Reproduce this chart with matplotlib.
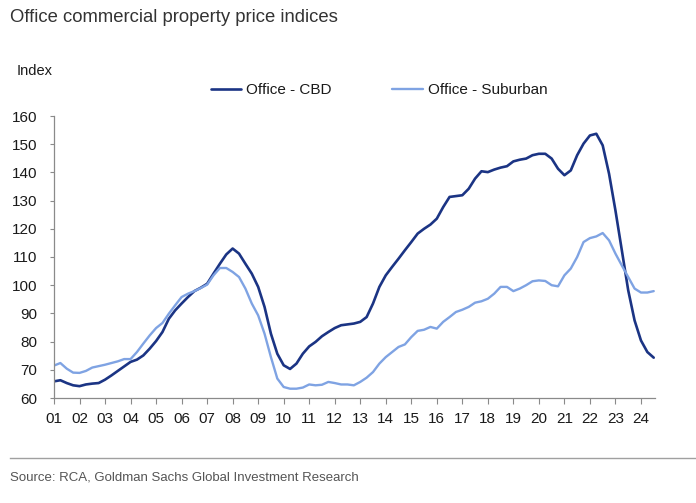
import matplotlib
matplotlib.use("Agg")
import matplotlib.pyplot as plt
import numpy as np

years_cbd = [2001.0, 2001.25, 2001.5, 2001.75, 2002.0, 2002.25, 2002.5, 2002.75,
             2003.0, 2003.25, 2003.5, 2003.75, 2004.0, 2004.25, 2004.5, 2004.75,
             2005.0, 2005.25, 2005.5, 2005.75, 2006.0, 2006.25, 2006.5, 2006.75,
             2007.0, 2007.25, 2007.5, 2007.75, 2008.0, 2008.25, 2008.5, 2008.75,
             2009.0, 2009.25, 2009.5, 2009.75, 2010.0, 2010.25, 2010.5, 2010.75,
             2011.0, 2011.25, 2011.5, 2011.75, 2012.0, 2012.25, 2012.5, 2012.75,
             2013.0, 2013.25, 2013.5, 2013.75, 2014.0, 2014.25, 2014.5, 2014.75,
             2015.0, 2015.25, 2015.5, 2015.75, 2016.0, 2016.25, 2016.5, 2016.75,
             2017.0, 2017.25, 2017.5, 2017.75, 2018.0, 2018.25, 2018.5, 2018.75,
             2019.0, 2019.25, 2019.5, 2019.75, 2020.0, 2020.25, 2020.5, 2020.75,
             2021.0, 2021.25, 2021.5, 2021.75, 2022.0, 2022.25, 2022.5, 2022.75,
             2023.0, 2023.25, 2023.5, 2023.75, 2024.0, 2024.25, 2024.5]
cbd = [65.9, 66.3, 65.3, 64.5, 64.2, 64.8, 65.1, 65.3,
       66.5, 68.0, 69.6, 71.2, 72.8, 73.6, 75.1, 77.5,
       80.2, 83.4, 88.1, 91.1, 93.5, 95.8, 97.9, 99.1,
       100.5, 104.1, 107.6, 110.9, 113.0, 111.2, 107.6, 104.1,
       99.4, 92.3, 82.8, 75.7, 71.6, 70.3, 72.2, 75.7,
       78.3, 79.9, 81.9, 83.4, 84.8, 85.8, 86.1, 86.4,
       87.0, 88.7, 93.5, 99.4, 103.5, 106.5, 109.4, 112.4,
       115.3, 118.3, 120.0, 121.5, 123.6, 127.7, 131.3, 131.6,
       131.9, 134.2, 137.8, 140.4, 140.1, 141.0, 141.7, 142.2,
       143.9, 144.5, 144.9, 146.1, 146.6, 146.6, 144.9, 141.3,
       139.0, 140.7, 146.1, 150.2, 153.1, 153.7, 149.6, 139.5,
       126.5, 112.4, 98.2, 87.5, 80.4, 76.3, 74.3]

suburban = [71.5, 72.4, 70.4, 69.0, 68.9, 69.6, 70.8, 71.3,
            71.8, 72.4, 73.0, 73.8, 73.8, 76.3, 79.3, 82.2,
            84.8, 86.6, 89.9, 92.9, 95.8, 97.0, 97.9, 99.0,
            100.2, 103.5, 106.1, 106.1, 104.7, 102.9, 98.8, 93.5,
            89.3, 82.8, 74.5, 66.9, 63.9, 63.3, 63.3, 63.7,
            64.8, 64.5, 64.7, 65.7, 65.3, 64.8, 64.8, 64.5,
            65.7, 67.2, 69.2, 72.2, 74.5, 76.3, 78.1, 79.0,
            81.6, 83.8, 84.2, 85.2, 84.6, 87.0, 88.7, 90.5,
            91.3, 92.3, 93.8, 94.3, 95.2, 97.0, 99.4, 99.4,
            97.9, 98.8, 100.0, 101.4, 101.7, 101.5, 100.0, 99.6,
            103.5, 105.9, 110.0, 115.3, 116.7, 117.3, 118.5, 115.9,
            111.2, 107.0, 102.9, 98.8, 97.4, 97.4, 97.9]

tick_years = list(range(2001, 2025))
tick_labels = ["%02d" % (y % 100) for y in tick_years]
y_ticks = [60, 70, 80, 90, 100, 110, 120, 130, 140, 150, 160]

series_names = ["Office - CBD", "Office - Suburban"]
c_cbd = "#1b3484"
c_sub = "#7fa3e3"

plt.rcParams['font.family'] = ['Liberation Sans', 'DejaVu Sans']

fig = plt.figure(figsize=(6.96, 5.03), dpi=100)
ax = fig.add_axes([54/696, 1-398/503, (655-54)/696, (398-116)/503])

ax.plot(years_cbd, cbd, color=c_cbd, lw=1.9, label=series_names[0],
        solid_capstyle='round', solid_joinstyle='round')
ax.plot(years_cbd, suburban, color=c_sub, lw=1.7, label=series_names[1],
        solid_capstyle='round', solid_joinstyle='round')

ax.set_xlim(2001, 2024.55)
ax.set_ylim(60, 160)
ax.set_xticks(tick_years)
ax.set_xticklabels(tick_labels)
ax.set_yticks(y_ticks)

for s in ['top', 'right']:
    ax.spines[s].set_visible(False)
for s in ['left', 'bottom']:
    ax.spines[s].set_color('#8a8a8a')
    ax.spines[s].set_linewidth(0.9)
ax.tick_params(axis='x', direction='out', length=4, width=0.8, color='#8a8a8a',
               labelsize=11, labelcolor='#1a1a1a', pad=6)
ax.tick_params(axis='y', direction='out', length=3, width=0.8, color='#8a8a8a',
               labelsize=11, labelcolor='#1a1a1a', pad=9)

leg = fig.legend(loc='center', bbox_to_anchor=(379/696, 1-90/503), ncol=2, frameon=False,
                 fontsize=11, handlelength=2.0, handletextpad=0.3, columnspacing=4.0,
                 borderaxespad=0, borderpad=0)
for t in leg.get_texts():
    t.set_color('#1a1a1a')

fig.text(17/696, 1-71/503, "Index", fontsize=10.5, color='#1a1a1a', va='center', ha='left')
fig.text(10/696, 1-17/503, "Office commercial property price indices", fontsize=13.3,
         color='#333333', va='center', ha='left')
fig.text(10/696, 1-477/503, "Source: RCA, Goldman Sachs Global Investment Research", fontsize=9.5,
         color='#555555', va='center', ha='left')
fig.add_artist(plt.Line2D([10/696, 1.0], [1-458/503, 1-458/503], transform=fig.transFigure,
                          color='#a0a0a0', lw=1.0))

fig.savefig("out.png", dpi=100)
